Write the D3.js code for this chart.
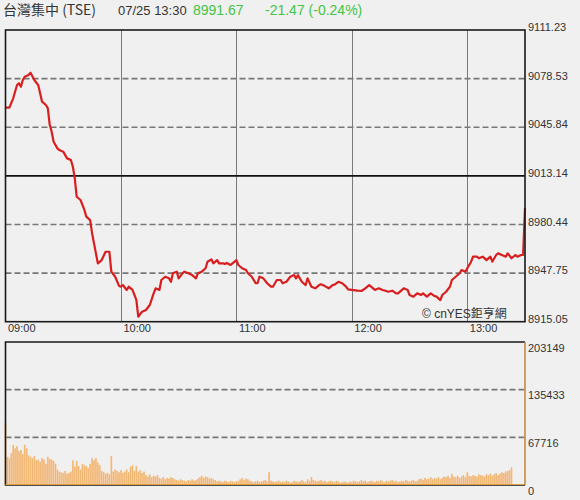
<!DOCTYPE html>
<html><head><meta charset="utf-8">
<script src="https://cdn.jsdelivr.net/npm/d3@7"></script>
<style>
html,body{margin:0;padding:0;background:#f0f0f0;}
svg{display:block;}
text{font-family:"Liberation Sans",Arial,sans-serif;}
</style></head><body>
<svg id="chart" width="580" height="500"></svg>
<script>
// ---------- data ----------
const title = "台灣集中 (TSE)";
const stamp = "07/25 13:30";
const lastPrice = "8991.67";
const change = "-21.47 (-0.24%)";
const watermark = "© cnYES鉅亨網";
const prevClose = 9013.14;
const priceTicks = [8915.05, 8947.75, 8980.44, 9013.14, 9045.84, 9078.53, 9111.23];
const timeTicks = ["09:00", "10:00", "11:00", "12:00", "13:00"];
const sessionStart = "09:00";
const sessionEnd = "13:30";
const volumeTicks = [0, 67716, 135433, 203149];

const priceTimes = [
"09:00","09:02","09:04","09:06","09:07","09:08","09:09","09:10","09:12","09:13",
"09:15","09:17","09:18","09:19","09:21","09:22","09:23","09:24","09:25","09:27",
"09:28","09:30","09:32","09:34","09:35","09:36","09:37","09:39","09:41","09:42",
"09:44","09:45","09:47","09:48","09:50","09:52","09:54","09:55","09:57","09:59",
"10:00","10:01","10:03","10:04","10:06","10:08","10:09","10:11","10:13","10:15",
"10:17","10:18","10:20","10:21","10:23","10:25","10:26","10:27","10:29","10:30",
"10:32","10:33","10:35","10:37","10:39","10:40","10:42","10:44","10:45","10:47",
"10:48","10:50","10:51","10:53","10:54","10:55","10:57","10:58","11:00","11:01",
"11:03","11:05","11:06","11:08","11:10","11:11","11:12","11:14","11:16","11:18",
"11:19","11:21","11:23","11:24","11:26","11:28","11:30","11:31","11:32","11:34",
"11:36","11:37","11:39","11:41","11:43","11:44","11:46","11:48","11:50","11:51",
"11:53","11:55","11:57","11:58","12:00","12:03","12:05","12:07","12:09","12:10",
"12:12","12:14","12:16","12:17","12:19","12:21","12:23","12:24","12:27","12:29",
"12:30","12:32","12:34","12:36","12:37","12:39","12:41","12:43","12:44","12:46",
"12:47","12:49","12:51","12:52","12:54","12:56","12:57","12:59","13:00","13:02",
"13:03","13:05","13:06","13:08","13:10","13:12","13:13","13:15","13:16","13:18",
"13:20","13:21","13:23","13:25","13:26","13:28","13:29","13:30"
];
const priceValues = [
9059.0,9059.0,9065.3,9074.2,9075.4,9073.1,9077.6,9079.8,9081.0,9082.5,
9077.6,9074.2,9068.7,9063.0,9060.8,9058.6,9047.3,9042.8,9036.1,9031.6,
9030.5,9029.4,9024.9,9023.8,9019.3,9011.5,8999.1,8996.9,8990.2,8985.7,
8983.4,8974.5,8961.0,8954.3,8956.5,8962.1,8962.1,8948.7,8945.3,8939.1,
8938.6,8939.7,8936.4,8938.6,8936.4,8929.7,8918.4,8921.8,8922.9,8926.3,
8934.1,8937.5,8936.4,8943.1,8945.3,8944.2,8941.9,8947.6,8948.7,8944.2,
8947.6,8948.7,8947.6,8946.4,8944.2,8947.6,8948.7,8951.0,8955.4,8957.0,
8954.3,8956.5,8954.3,8954.3,8953.8,8954.5,8953.2,8954.3,8956.5,8953.2,
8951.0,8949.8,8947.6,8945.3,8940.9,8940.9,8945.3,8944.2,8940.9,8938.6,
8938.6,8943.1,8943.1,8940.9,8941.9,8945.3,8946.4,8944.2,8946.4,8941.9,
8939.7,8944.2,8938.6,8937.5,8939.7,8940.2,8939.0,8937.5,8939.7,8940.0,
8941.9,8940.9,8938.6,8936.8,8936.4,8935.9,8935.7,8937.5,8939.7,8938.6,
8936.4,8937.5,8936.4,8936.0,8935.2,8935.9,8934.1,8934.1,8937.5,8936.4,
8933.0,8931.9,8934.1,8933.0,8934.1,8931.9,8934.1,8932.3,8931.9,8929.6,
8933.0,8935.2,8938.6,8943.1,8945.3,8947.6,8949.8,8948.7,8951.0,8955.4,
8958.8,8958.8,8957.7,8958.8,8956.5,8958.8,8955.4,8959.9,8961.0,8959.9,
8958.8,8961.0,8957.7,8959.9,8958.8,8959.9,8959.9,8991.67
];

// one value per minute from 09:00 to 13:30
const volumeValues = [
88000,40000,38000,45000,57000,52000,55000,48000,50000,44000,
57000,52000,42000,40000,38000,41000,35000,36000,33000,38000,
36000,30000,40000,37000,36000,34000,30000,22000,19000,18000,
17000,20000,16000,17000,19000,35000,26000,34000,27000,22000,
30000,28000,27000,24000,30000,38000,35000,38000,32000,28000,
20000,18000,16000,17000,15000,41000,19000,22000,20000,18000,
21000,17000,19000,22000,18000,26000,28000,20000,27000,19000,
21000,17000,19000,14000,12000,15000,11000,13000,12000,14000,
10000,9000,11000,8000,10000,9000,11000,10000,8000,7000,
6000,8000,7000,6000,5000,7000,6000,8000,6000,7000,
9000,11000,13000,10000,12000,11000,9000,10000,8000,7000,
5000,6000,5000,4000,6000,5000,4000,6000,5000,4000,
5000,6000,8000,10000,7000,9000,8000,6000,5000,4000,
5000,6000,4000,5000,6000,7000,5000,18000,6000,5000,
4000,5000,6000,4000,5000,4000,6000,5000,3000,4000,
6000,5000,4000,5000,7000,5000,4000,8000,6000,11000,
7000,6000,5000,6000,7000,5000,6000,4000,5000,6000,
5000,4000,6000,5000,3000,4000,5000,4000,3000,5000,
4000,6000,5000,4000,5000,7000,5000,6000,4000,5000,
6000,5000,4000,6000,5000,7000,5000,4000,6000,5000,
6000,7000,5000,6000,4000,5000,6000,5000,7000,6000,
5000,6000,7000,5000,6000,8000,9000,7000,10000,8000,
9000,11000,8000,10000,9000,11000,8000,10000,12000,11000,
13000,10000,16000,12000,11000,13000,10000,12000,14000,11000,
18000,13000,12000,14000,13000,12000,15000,14000,13000,12000,
15000,14000,16000,13000,15000,17000,14000,16000,18000,17000,
19000,20000,21000,25000,0,0,0,0,0,0,
203149
];

// ---------- drawing ----------
const svg = d3.select("#chart");
const parse = d3.timeParse("%H:%M");
const L = 5.5, R = 525, T1 = 30, B1 = 321.7, T2 = 342, B2 = 485;

const x = d3.scaleTime().domain([parse(sessionStart), parse(sessionEnd)]).range([L, R]);
const y = d3.scaleLinear().domain([priceTicks[0], priceTicks[priceTicks.length - 1]]).range([B1, T1]);
const yv = d3.scaleLinear().domain([0, volumeTicks[volumeTicks.length - 1]]).range([B2, T2]);

// header
const hdr = svg.append("g");
hdr.append("text").attr("x", 3).attr("y", 15).attr("fill", "#333")
  .style("font-family", "'Noto Sans CJK TC','Liberation Sans',sans-serif").style("font-size", "14px").text(title);
hdr.append("text").attr("x", 118).attr("y", 15).attr("fill", "#333").style("font-size", "13px").text(stamp);
hdr.append("text").attr("x", 193).attr("y", 15).attr("fill", "#44c444").style("font-size", "14px").text(lastPrice);
hdr.append("text").attr("x", 265).attr("y", 15).attr("fill", "#44c444").style("font-size", "14px").text(change);

// price grid
const gGrid = svg.append("g");
gGrid.selectAll("line.h").data(priceTicks.filter((d, i) => i > 0 && i < priceTicks.length - 1 && d !== prevClose))
  .join("line").attr("x1", L).attr("x2", R)
  .attr("y1", d => y(d)).attr("y2", d => y(d))
  .attr("stroke", "#777").attr("stroke-width", 1.6).attr("stroke-dasharray", "6,3");
gGrid.selectAll("line.v").data(timeTicks.slice(1)).join("line")
  .attr("x1", d => Math.round(x(parse(d))) + 0.5).attr("x2", d => Math.round(x(parse(d))) + 0.5)
  .attr("y1", T1).attr("y2", B1).attr("stroke", "#7a7a7a").attr("stroke-width", 1);
gGrid.append("line").attr("x1", L).attr("x2", R).attr("y1", y(prevClose)).attr("y2", y(prevClose))
  .attr("stroke", "#111").attr("stroke-width", 1.6);

// price line
const pts = priceTimes.map((t, i) => ({ t: parse(t), v: priceValues[i] }));
svg.append("path").datum(pts)
  .attr("fill", "none").attr("stroke", "#d81e1e").attr("stroke-width", 2.2)
  .attr("stroke-linejoin", "round")
  .attr("d", d3.line().x(d => x(d.t)).y(d => y(d.v)));

// price panel border
svg.append("rect").attr("x", L).attr("y", T1).attr("width", R - L).attr("height", B1 - T1)
  .attr("fill", "none").attr("stroke", "#1a1a1a").attr("stroke-width", 1.6);

// watermark
svg.append("text").attr("x", 422).attr("y", 318).attr("fill", "#333")
  .style("font-family", "'Liberation Sans','Noto Sans CJK TC',sans-serif").style("font-size", "12px").text(watermark);

// price axis
const ay = svg.append("g").attr("transform", `translate(${R},0)`)
  .call(d3.axisRight(y).tickValues(priceTicks).tickSize(0).tickPadding(3).tickFormat(d3.format(".2f")));
ay.select(".domain").remove();
ay.selectAll("text").attr("fill", "#333").style("font-size", "11px").attr("transform", "translate(0,-3)");

// time axis
const ax = svg.append("g").attr("transform", `translate(0,${B1})`)
  .call(d3.axisBottom(x).tickValues(timeTicks.map(parse)).tickSize(0).tickFormat(d3.timeFormat("%H:%M")));
ax.select(".domain").remove();
ax.selectAll("text").attr("fill", "#333").style("font-size", "11px")
  .attr("text-anchor", "start").attr("x", 2).attr("y", 3);

// volume grid
svg.append("g").selectAll("line").data(volumeTicks.filter((d, i) => i > 0 && i < volumeTicks.length - 1))
  .join("line").attr("x1", L).attr("x2", R)
  .attr("y1", d => yv(d)).attr("y2", d => yv(d))
  .attr("stroke", "#777").attr("stroke-width", 1.6).attr("stroke-dasharray", "6,3");

// volume bars
const t0 = parse(sessionStart);
const vol = volumeValues.map((v, i) => ({ t: d3.timeMinute.offset(t0, i), v }));
const step = x(d3.timeMinute.offset(t0, 1)) - x(t0);
const gv = svg.append("g");
gv.selectAll("rect").data(vol.slice(0, vol.length - 1).filter(d => d.v > 0)).join("rect")
  .attr("x", d => x(d.t) - step / 2).attr("width", step)
  .attr("y", d => yv(d.v)).attr("height", d => B2 - yv(d.v))
  .attr("fill", "#f8c89c");
gv.selectAll("line").data(vol.slice(0, vol.length - 1).filter(d => d.v > 0)).join("line")
  .attr("x1", d => x(d.t)).attr("x2", d => x(d.t))
  .attr("y1", d => yv(d.v)).attr("y2", B2)
  .attr("stroke", "#e4a445").attr("stroke-width", 0.7).attr("stroke-opacity", 0.75);

// volume panel border (top, left, bottom)
svg.append("path").attr("d", `M${R},${T2}H${L}V${B2}H${R}`)
  .attr("fill", "none").attr("stroke", "#1a1a1a").attr("stroke-width", 1.6);
svg.append("line").attr("x1", L).attr("x2", R).attr("y1", B2 - 0.5).attr("y2", B2 - 0.5)
  .attr("stroke", "#e0a040").attr("stroke-width", 1);

// closing auction bar at 13:30
const lastVol = vol[vol.length - 1];
svg.append("line").attr("x1", x(lastVol.t)).attr("x2", x(lastVol.t))
  .attr("y1", yv(lastVol.v)).attr("y2", B2)
  .attr("stroke", "#c98a3c").attr("stroke-width", 1.6);

// volume axis
const avy = svg.append("g").attr("transform", `translate(${R},0)`)
  .call(d3.axisRight(yv).tickValues(volumeTicks).tickSize(0).tickPadding(3).tickFormat(d3.format("d")));
avy.select(".domain").remove();
avy.selectAll("text").attr("fill", "#333").style("font-size", "11px").attr("transform", "translate(0,5.5)");
</script>
</body></html>
